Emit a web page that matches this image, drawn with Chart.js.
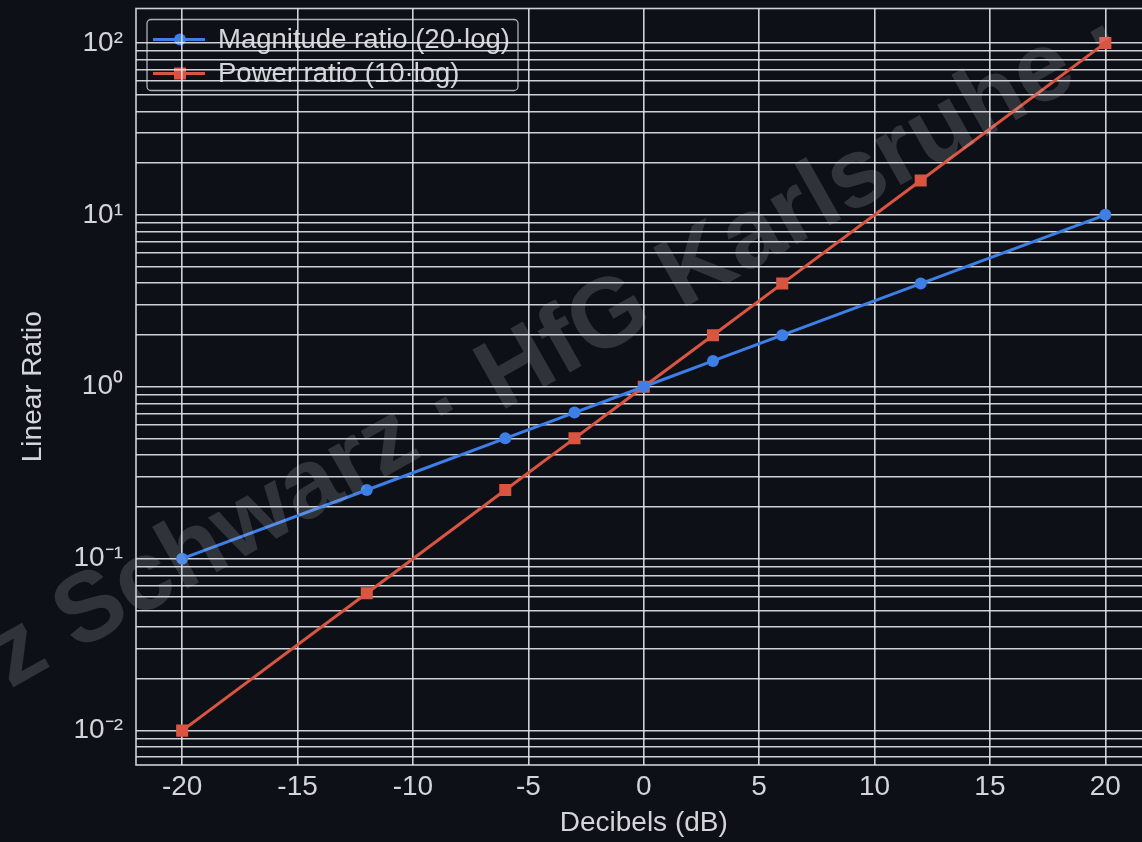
<!DOCTYPE html>
<html>
<head>
<meta charset="utf-8">
<script src="https://cdn.jsdelivr.net/npm/chart.js@4.4.0/dist/chart.umd.min.js"></script>
<style>
  html, body { margin: 0; padding: 0; background: #0d1117; overflow: hidden; }
  #wrap { width: 1160px; height: 842px; }
</style>
</head>
<body>
<div id="wrap"><canvas id="dbChart"></canvas></div>
<script>
// values
const dbValues = [-20, -12, -6, -3, 0, 3, 6, 12, 20];
const magnitudeRatio = [0.1, 0.251, 0.501, 0.708, 1.0, 1.413, 1.995, 3.981, 10];
const powerRatio = [0.01, 0.063, 0.251, 0.501, 1.0, 1.995, 3.981, 15.85, 100];

const xTicks = [-20, -15, -10, -5, 0, 5, 10, 15, 20];
const yMajorTicks = [0.01, 0.1, 1, 10, 100];
const yTickLabels = ['10⁻²', '10⁻¹', '10⁰', '10¹', '10²'];

const textColor = '#d3d5d9';
const gridColor = 'rgba(226,229,233,0.9)';
const fontFamily = '"Liberation Sans", Arial, sans-serif';

document.addEventListener("DOMContentLoaded", () => {
  const ctx = document.getElementById('dbChart').getContext('2d');

  // minor log grid: 1..9 x each decade
  const yGridValues = [];
  for (let e = -3; e <= 2; e++) {
    for (let m = 1; m <= 9; m++) {
      yGridValues.push(Number((m * Math.pow(10, e)).toPrecision(3)));
    }
  }

  const legendFrameWatermark = {
    id: 'legendFrameWatermark',
    // legend sits under the grid, like in the reference
    beforeDraw(chart) {
      const { ctx } = chart;
      const a = chart.chartArea;
      const bx = a.left + 11, by = a.top + 11, bw = 371, bh = 71;
      ctx.save();
      ctx.strokeStyle = 'rgba(200,204,210,0.85)';
      ctx.lineWidth = 1.3;
      ctx.beginPath();
      ctx.roundRect(bx, by, bw, bh, 4);
      ctx.stroke();
      ctx.font = '27.5px ' + fontFamily;
      ctx.textBaseline = 'middle';
      chart.data.datasets.forEach((ds, i) => {
        const yy = by + 20 + i * 34;
        ctx.strokeStyle = ds.borderColor;
        ctx.lineWidth = 3;
        ctx.beginPath();
        ctx.moveTo(bx + 6, yy);
        ctx.lineTo(bx + 58, yy);
        ctx.stroke();
        ctx.fillStyle = ds.backgroundColor;
        if (ds.pointStyle === 'rect') {
          ctx.fillRect(bx + 33 - 6, yy - 6, 12, 12);
        } else {
          ctx.beginPath();
          ctx.arc(bx + 33, yy, 6, 0, Math.PI * 2);
          ctx.fill();
        }
        ctx.fillStyle = textColor;
        ctx.fillText(ds.label, bx + 71, yy + 1);
      });
      ctx.restore();
    },
    beforeDatasetsDraw(chart) {
      const { ctx, chartArea: a } = chart;
      ctx.save();
      ctx.strokeStyle = gridColor;
      ctx.lineWidth = 1.6;
      ctx.strokeRect(a.left, a.top, a.right - a.left, a.bottom - a.top);
      ctx.restore();
    },
    afterDraw(chart) {
      const { ctx } = chart;
      const mark = 'z Schwarz · HfG Karlsruhe ·';
      ctx.save();
      ctx.font = 'bold 100px ' + fontFamily;
      const size = 100 * 1290 / ctx.measureText(mark).width;
      ctx.font = 'bold ' + size + 'px ' + fontFamily;
      ctx.translate(558, 348);
      ctx.rotate(-29.5 * Math.PI / 180);
      ctx.fillStyle = 'rgba(200,204,210,0.19)';
      ctx.textAlign = 'center';
      ctx.textBaseline = 'middle';
      ctx.fillText(mark, 0, 0);
      ctx.restore();
    }
  };

  new Chart(ctx, {
    type: 'line',
    data: {
      datasets: [{
        label: 'Magnitude ratio (20·log)',
        data: dbValues.map((x, i) => ({ x: x, y: magnitudeRatio[i] })),
        borderColor: '#3d7fe6',
        backgroundColor: '#3d7fe6',
        borderWidth: 3,
        pointStyle: 'circle',
        pointRadius: 6,
        pointBorderWidth: 0
      }, {
        label: 'Power ratio (10·log)',
        data: dbValues.map((x, i) => ({ x: x, y: powerRatio[i] })),
        borderColor: '#da5541',
        backgroundColor: '#da5541',
        borderWidth: 3,
        pointStyle: 'rect',
        pointRadius: 8.5,
        pointBorderWidth: 0
      }]
    },
    options: {
      responsive: true,
      maintainAspectRatio: false,
      animation: false,
      layout: { padding: { top: 8, right: 8, bottom: 0, left: 0 } },
      plugins: {
        legend: { display: false },
        tooltip: { enabled: false }
      },
      scales: {
        x: {
          type: 'linear',
          min: -22,
          max: 22,
          afterBuildTicks: (scale) => {
            scale.ticks = xTicks.map(v => ({ value: v }));
          },
          afterFit: (scale) => {
            scale.height = 77;
            scale.paddingLeft = 0;
            scale.paddingRight = 0;
          },
          grid: { color: gridColor, lineWidth: 1.6, drawTicks: false },
          border: { display: false },
          ticks: {
            color: textColor,
            font: { family: fontFamily, size: 28 },
            padding: 5,
            maxRotation: 0
          },
          title: {
            display: true,
            text: 'Decibels (dB)',
            color: textColor,
            font: { family: fontFamily, size: 28 },
            padding: { top: 0, bottom: 2 }
          }
        },
        y: {
          type: 'logarithmic',
          min: 0.00631,
          max: 158.5,
          afterBuildTicks: (scale) => {
            scale.ticks = yGridValues
              .filter(v => v >= scale.min && v <= scale.max)
              .map(v => ({ value: v }));
          },
          afterFit: (scale) => {
            scale.width = 136;
            scale.paddingTop = 0;
            scale.paddingBottom = 0;
          },
          grid: { color: gridColor, lineWidth: 1.6, drawTicks: false },
          border: { display: false },
          ticks: {
            color: textColor,
            font: { family: fontFamily, size: 28 },
            padding: 13,
            autoSkip: false,
            callback: (value) => {
              const idx = yMajorTicks.findIndex(t => Math.abs(t - value) / t < 1e-6);
              return idx >= 0 ? yTickLabels[idx] : '';
            }
          },
          title: {
            display: true,
            text: 'Linear Ratio',
            color: textColor,
            font: { family: fontFamily, size: 28 },
            padding: { top: 16, bottom: 0 }
          }
        }
      }
    },
    plugins: [legendFrameWatermark]
  });
});
</script>
</body>
</html>
